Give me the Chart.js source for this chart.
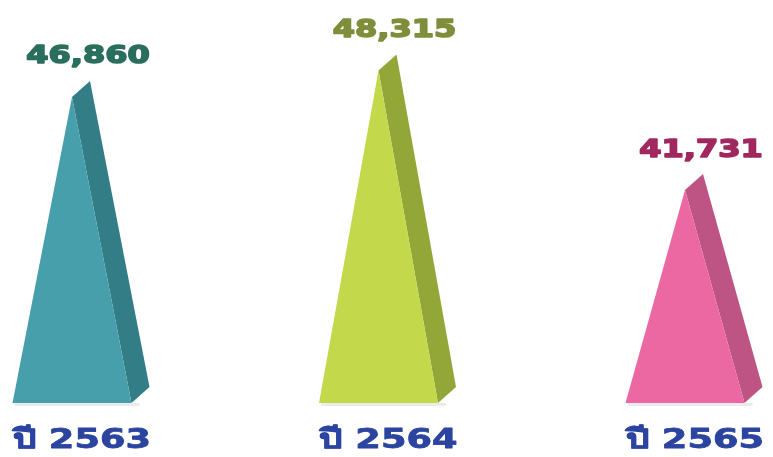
<!DOCTYPE html>
<html>
<head>
<meta charset="utf-8">
<script src="https://cdn.jsdelivr.net/npm/chart.js@4.4.1/dist/chart.umd.min.js"></script>
<style>
  html, body { margin: 0; padding: 0; background: #ffffff; }
  #wrap { width: 773px; height: 457px; }
</style>
</head>
<body>
<div id="wrap"><canvas id="pyramidChart" width="773" height="457"></canvas></div>
<script>
// data
const categories = ["ปี 2563", "ปี 2564", "ปี 2565"];
const values = [46860, 48315, 41731];
const frontColors = ["#479fab", "#c3d94b", "#ec68a2"];
const sideColors = ["#337d86", "#93a738", "#be5484"];
const labelColors = ["#2a6e5e", "#7e8e3a", "#a0285f"];

// tekst iets breder en zwaarder tekenen, zoals in het origineel
function vetteTekst(ctx, tekst, x, y, schaal, font, kleur, dikte) {
  ctx.save();
  ctx.translate(x, y);
  ctx.scale(schaal, 1);
  ctx.font = font;
  ctx.textAlign = "center";
  ctx.textBaseline = "middle";
  ctx.fillStyle = kleur;
  if (dikte) {
    ctx.strokeStyle = kleur;
    ctx.lineWidth = dikte;
    ctx.lineJoin = "round";
    ctx.strokeText(tekst, 0, 0);
  }
  ctx.fillText(tekst, 0, 0);
  ctx.restore();
}

// 3D pyramides op de (onzichtbare) bar elementen
const pyramidPlugin = {
  id: "pyramids",
  afterDatasetsDraw(chart) {
    const ctx = chart.ctx;
    const meta = chart.getDatasetMeta(0);
    const base = chart.chartArea.bottom;
    const dx = 18, dy = -16;

    meta.data.forEach((bar, i) => {
      const half = bar.width / 2;
      const left = bar.x - half;
      const right = bar.x + half;
      const top = bar.y;

      // zachte schaduw onder de basis
      ctx.save();
      ctx.fillStyle = "rgba(0,0,0,0.08)";
      ctx.fillRect(left + 2, base, right - left + 6, 3);
      ctx.restore();

      // zijvlak
      ctx.beginPath();
      ctx.moveTo(bar.x, top);
      ctx.lineTo(bar.x + dx, top + dy);
      ctx.lineTo(right + dx, base + dy);
      ctx.lineTo(right, base);
      ctx.closePath();
      ctx.fillStyle = sideColors[i];
      ctx.fill();

      // voorvlak
      ctx.beginPath();
      ctx.moveTo(left, base);
      ctx.lineTo(bar.x, top);
      ctx.lineTo(right, base);
      ctx.closePath();
      ctx.fillStyle = frontColors[i];
      ctx.fill();

      // waarde boven de top
      vetteTekst(ctx, values[i].toLocaleString("en-US"), bar.x + 16, top + dy - 24,
        1.28, "bold 25px 'DejaVu Sans'", labelColors[i], 1.6);
    });

    // categorie labels onder de basis
    const xScale = chart.scales.x;
    categories.forEach((cat, i) => {
      vetteTekst(ctx, cat, xScale.getPixelForTick(i) + 10, base + 38,
        1.36, "bold 27px 'DejaVu Sans', 'Noto Sans', sans-serif", "#2b44a0", 0.8);
    });
  },
};

new Chart(document.getElementById("pyramidChart"), {
  type: "bar",
  data: {
    labels: categories,
    datasets: [
      {
        data: values,
        backgroundColor: "rgba(0,0,0,0)",
        barThickness: 119,
      },
    ],
  },
  options: {
    responsive: false,
    animation: false,
    layout: { padding: { top: 40, bottom: 54, left: 72, right: 88 } },
    plugins: {
      legend: { display: false },
      tooltip: { enabled: false },
    },
    scales: {
      x: { display: false, offset: false },
      y: { display: false, min: 30000, max: 50000 },
    },
  },
  plugins: [pyramidPlugin],
});
</script>
</body>
</html>
